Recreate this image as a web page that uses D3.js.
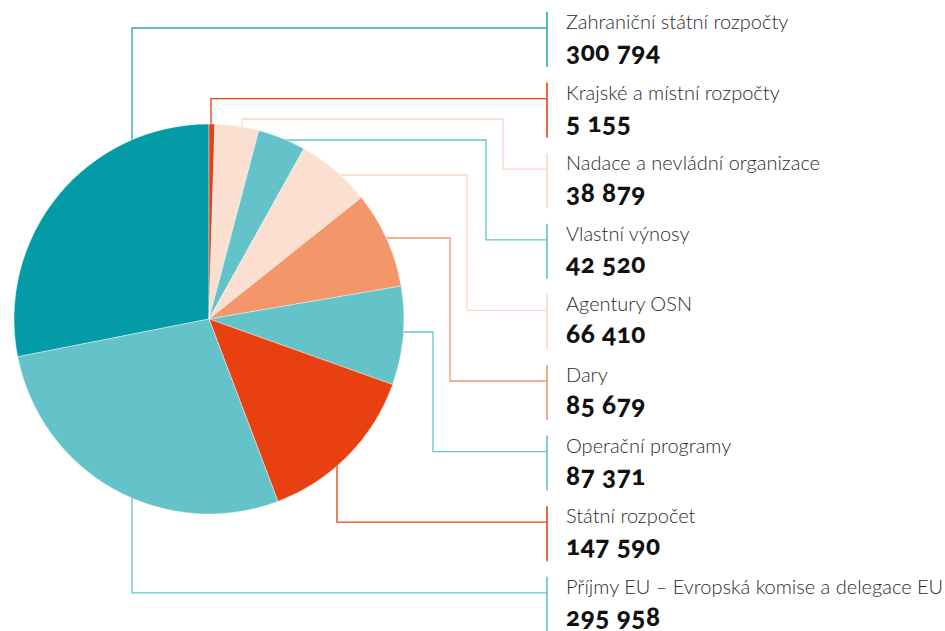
<!DOCTYPE html>
<html lang="cs">
<head>
<meta charset="utf-8">
<script src="https://cdn.jsdelivr.net/npm/d3@7"></script>
<style>
  html, body { margin: 0; padding: 0; background: #fff; }
  svg { display: block; }
  .name { font-family: Lato, "Open Sans", sans-serif; font-weight: 300; fill: #2b2b2b; }
  .value { font-family: Lato, "Open Sans", sans-serif; font-weight: 900; fill: #111; font-variant-numeric: oldstyle-nums; }
</style>
</head>
<body>
<svg id="chart" width="945" height="631"></svg>
<script>
// Zdroje financování (v tis. Kč), seřazeno podle pořadí popisků shora dolů
const categories = [
  "Zahraniční státní rozpočty",
  "Krajské a místní rozpočty",
  "Nadace a nevládní organizace",
  "Vlastní výnosy",
  "Agentury OSN",
  "Dary",
  "Operační programy",
  "Státní rozpočet",
  "Příjmy EU – Evropská komise a delegace EU"
];
const values = [300794, 5155, 38879, 42520, 66410, 85679, 87371, 147590, 295958];
const valueLabels = ["300 794", "5 155", "38 879", "42 520", "66 410", "85 679", "87 371", "147 590", "295 958"];

const sliceColors = ["#039ca6", "#e84011", "#fbdfd0", "#63c3c8", "#fbdfd0", "#f3976b", "#63c3c8", "#e84011", "#63c3c8"];
const lineColors  = ["#2aa9b2", "#e84011", "#fad8c5", "#63c3c8", "#fad8c5", "#f3976b", "#63c3c8", "#e84011", "#63c3c8"];

const svg = d3.select("#chart");
const cx = 209, cy = 319, R = 195;
const barX = 547, textX = 566;
const rowTop = i => 12 + i * 70.6;
const rowLine = i => rowTop(i) + 16;

// Vývody popisků: svislý výstup z koláče (v) nebo vodorovný (h), s lomem před popiskem
const routes = [
  { exit: "v", dx: -77 },
  { exit: "v", dx: 2 },
  { exit: "v", dx: 33, level: -200, elbow: -44 },
  { exit: "h", dy: -179, elbow: -61 },
  { exit: "h", dy: -144, elbow: -80 },
  { exit: "h", dy: -81, elbow: -97 },
  { exit: "h", dy: 13, elbow: -114 },
  { exit: "v", dx: 128 },
  { exit: "v", dx: -77 }
];

function leaderPoints(i) {
  const r = routes[i], ly = rowLine(i);
  if (r.exit === "v") {
    const x = cx + r.dx;
    if (r.level !== undefined) {
      const ex = barX + r.elbow;
      return [[x, cy], [x, cy + r.level], [ex, cy + r.level], [ex, ly], [barX, ly]];
    }
    return [[x, cy], [x, ly], [barX, ly]];
  }
  const y = cy + r.dy, ex = barX + r.elbow;
  return [[cx, y], [ex, y], [ex, ly], [barX, ly]];
}

const line = d3.line();

// vodicí čáry (pod koláčem)
svg.append("g").selectAll("path")
  .data(categories)
  .join("path")
  .attr("d", (d, i) => line(leaderPoints(i)))
  .attr("fill", "none")
  .attr("stroke", (d, i) => lineColors[i])
  .attr("stroke-width", 1.3);

// koláč: začíná tak, aby první výseč končila na 12 hodinách
const total = d3.sum(values);
const start = -2 * Math.PI * values[0] / total;
const pie = d3.pie().sort(null).value(d => d).startAngle(start).endAngle(start + 2 * Math.PI);
const arc = d3.arc().innerRadius(0).outerRadius(R);

svg.append("g")
  .attr("transform", `translate(${cx},${cy})`)
  .selectAll("path")
  .data(pie(values))
  .join("path")
  .attr("d", arc)
  .attr("fill", (d, i) => sliceColors[i])
  .attr("stroke", "#fff")
  .attr("stroke-width", 0.4);

// popisky
const rows = svg.append("g").selectAll("g")
  .data(categories)
  .join("g")
  .attr("transform", (d, i) => `translate(0,${rowTop(i)})`);

rows.append("line")
  .attr("x1", barX).attr("x2", barX)
  .attr("y1", 0).attr("y2", 55)
  .attr("stroke", (d, i) => lineColors[i])
  .attr("stroke-width", 1.6);

rows.append("text")
  .attr("class", "name")
  .attr("x", textX).attr("y", 17)
  .attr("font-size", 20)
  .text(d => d);

rows.append("text")
  .attr("class", "value")
  .attr("x", textX).attr("y", 49)
  .attr("font-size", 26)
  .attr("letter-spacing", 0.6)
  .text((d, i) => valueLabels[i]);
</script>
</body>
</html>
